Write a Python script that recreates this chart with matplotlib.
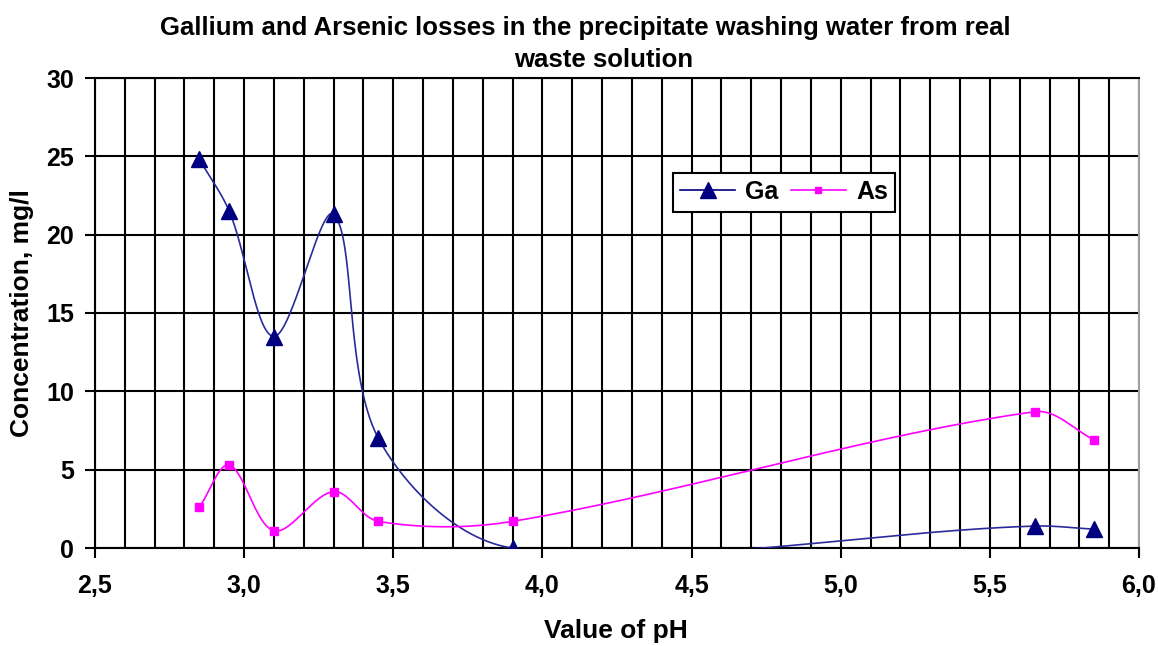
import numpy as np
import matplotlib
matplotlib.use('Agg')
import matplotlib.pyplot as plt
from matplotlib.ticker import MultipleLocator, FuncFormatter

# data
ph = [2.85, 2.95, 3.10, 3.30, 3.45, 3.90, 5.65, 5.85]
ga = [24.8, 21.5, 13.5, 21.3, 7.0, 0.0, 1.4, 1.2]
as_ = [2.6, 5.3, 1.1, 3.6, 1.7, 1.7, 8.7, 6.9]

plt.rcParams['font.family'] = ['Liberation Sans', 'DejaVu Sans']
plt.rcParams['font.weight'] = 'bold'

XMIN, XMAX, YMIN, YMAX = 2.5, 6.0, 0, 30
AX_W, AX_H = 1044.0, 470.0


def smooth(x, y, n=60):
    # excel-like bezier smoothing, handle lengths scaled by segment length
    sx = AX_W / (XMAX - XMIN)
    sy = AX_H / (YMAX - YMIN)
    p = np.column_stack([np.asarray(x) * sx, np.asarray(y) * sy])
    pp = np.vstack([p[0], p, p[-1]])
    d = np.linalg.norm(np.diff(pp, axis=0), axis=1)
    out = []
    t = np.linspace(0, 1, n)[:, None]
    for i in range(len(p) - 1):
        j = i + 1
        p0, p3 = pp[j], pp[j + 1]
        f1 = d[j] / (d[j - 1] + d[j]) / 3
        f2 = d[j] / (d[j] + d[j + 1]) / 3
        c1 = p0 + (pp[j + 1] - pp[j - 1]) * f1
        c2 = p3 - (pp[j + 2] - pp[j]) * f2
        seg = ((1 - t) ** 3) * p0 + 3 * ((1 - t) ** 2) * t * c1 + 3 * (1 - t) * t ** 2 * c2 + t ** 3 * p3
        out.append(seg)
    out = np.vstack(out)
    return out[:, 0] / sx, out[:, 1] / sy


fig = plt.figure(figsize=(11.58, 6.46), dpi=100)
ax = fig.add_axes([95 / 1158, 1 - 548 / 646, AX_W / 1158, AX_H / 646])

ax.set_xlim(XMIN, XMAX)
ax.set_ylim(YMIN, YMAX)
ax.xaxis.set_major_locator(MultipleLocator(0.5))
ax.xaxis.set_minor_locator(MultipleLocator(0.1))
ax.yaxis.set_major_locator(MultipleLocator(5))
ax.xaxis.set_major_formatter(FuncFormatter(lambda v, p: ('%.1f' % v).replace('.', ',')))
ax.grid(which='both', axis='x', color='black', linewidth=1.5, zorder=0)
ax.grid(which='major', axis='y', color='black', linewidth=1.5, zorder=0)
ax.tick_params(axis='x', which='minor', length=0)
ax.tick_params(axis='both', which='major', direction='out', length=7, width=1.5,
               labelsize=18)
ax.tick_params(axis='x', which='major', pad=12)
ax.tick_params(axis='y', which='major', pad=8)
for s in ['left', 'bottom', 'top']:
    ax.spines[s].set_linewidth(1.5)
    ax.spines[s].set_color('black')
ax.spines['right'].set_color('#a0a0a0')
ax.spines['right'].set_linewidth(1.5)

gx, gy = smooth(ph, ga)
ax.plot(gx, gy, color='#2a2a9a', linewidth=1.2, zorder=3)
ax.plot(ph, ga, linestyle='none', marker='^', markersize=11, color='#000080', zorder=4)
sx_, sy_ = smooth(ph, as_)
ax.plot(sx_, sy_, color='#ff00ff', linewidth=1.2, zorder=3)
ax.plot(ph, as_, linestyle='none', marker='s', markersize=6, color='#ff00ff', zorder=4)

h1, = ax.plot([], [], color='#000080', linewidth=1.2, marker='^', markersize=11)
h2, = ax.plot([], [], color='#ff00ff', linewidth=1.2, marker='s', markersize=5)
leg = ax.legend([h1, h2], ['Ga', 'As'], ncol=2, loc='center',
                bbox_to_anchor=(0.66, 0.757),
                fancybox=False, framealpha=1, edgecolor='black', fontsize=18,
                borderpad=0.3, handlelength=2.2, handletextpad=0.4, columnspacing=0.5,
                borderaxespad=0)
leg.get_frame().set_linewidth(1.5)

ax.set_xlabel('Value of pH', fontsize=19, fontweight='bold')
ax.set_ylabel('Concentration, mg/l', fontsize=19, fontweight='bold')
ax.xaxis.set_label_coords(0.499, -0.152)
ax.yaxis.set_label_coords(-0.058, 0.5)
fig.text(585 / 1158, 1 - 28 / 646, 'Gallium and Arsenic losses in the precipitate washing water from real',
         ha='center', va='center', fontsize=18.5)
fig.text(604 / 1158, 1 - 60 / 646, 'waste solution',
         ha='center', va='center', fontsize=18.5)

fig.savefig('out.png', dpi=100)
